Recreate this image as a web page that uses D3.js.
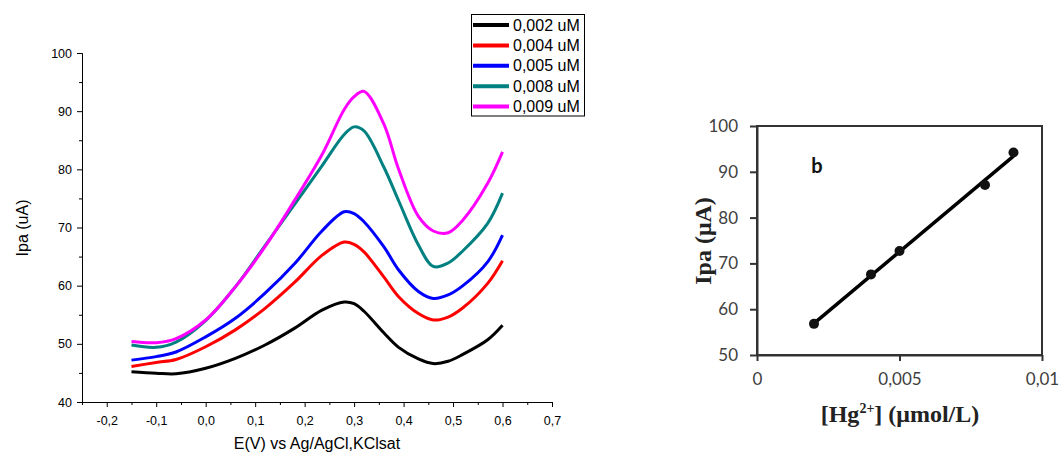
<!DOCTYPE html>
<html>
<head>
<meta charset="utf-8">
<script src="https://cdn.jsdelivr.net/npm/d3@7"></script>
<style>
  body { margin: 0; background: #fff; }
  svg { display: block; }
</style>
</head>
<body>
<svg id="chart" width="1059" height="452"></svg>
<script>
// left panel: voltammograms
var potentials = [-0.15, -0.10, -0.06, 0.00, 0.06, 0.12, 0.18, 0.235, 0.28, 0.30, 0.32, 0.36, 0.39, 0.43, 0.46, 0.49, 0.52, 0.57, 0.60]
var current002 = [45.2, 44.95, 44.85, 45.8, 47.5, 49.8, 52.7, 55.8, 57.2, 56.9, 55.6, 51.9, 49.4, 47.4, 46.6, 47.0, 48.2, 50.7, 53.2]
var current004 = [46.1, 46.8, 47.3, 49.5, 52.4, 56.1, 60.6, 65.2, 67.5, 67.1, 65.8, 61.5, 58.1, 55.2, 54.1, 54.6, 56.2, 60.4, 64.3]
var current005 = [47.2, 47.8, 48.6, 51.2, 54.4, 58.7, 63.8, 69.4, 72.7, 72.4, 71.0, 66.7, 62.7, 59.0, 57.8, 58.4, 60.0, 64.1, 68.7]
var current008 = [49.8, 49.4, 50.3, 54.0, 59.8, 66.9, 74.0, 80.6, 86.0, 87.3, 86.6, 80.4, 74.6, 67.0, 63.3, 63.9, 66.0, 70.7, 75.9]
var current009 = [50.4, 50.2, 50.9, 54.1, 59.8, 66.7, 74.7, 82.5, 90.3, 92.5, 93.4, 87.8, 80.0, 71.9, 69.4, 69.1, 71.3, 77.6, 83.0]
var seriesNames = ["0,002 uM", "0,004 uM", "0,005 uM", "0,008 uM", "0,009 uM"]
var seriesColors = ["#000000", "#ff0000", "#0000ff", "#008080", "#ff00ff"]
var xTicksA = [-0.2, -0.1, 0.0, 0.1, 0.2, 0.3, 0.4, 0.5, 0.6, 0.7]
var xMinorA = [-0.25, -0.15, -0.05, 0.05, 0.15, 0.25, 0.35, 0.45, 0.55, 0.65]
var yTicksA = [40, 50, 60, 70, 80, 90, 100]
var yMinorA = [45, 55, 65, 75, 85, 95]

// right panel: calibration
var concentrations = [0.002, 0.004, 0.005, 0.008, 0.009]
var peakCurrents = [56.8, 67.6, 72.7, 87.1, 94.2]
var xTicksB = [0, 0.005, 0.01]
var yTicksB = [50, 60, 70, 80, 90, 100]

var svg = d3.select("#chart")
var comma = d => String(d).replace(".", ",")

// ---------- left panel ----------
var x = d3.scaleLinear().domain([-0.25, 0.7]).range([82, 552])
var y = d3.scaleLinear().domain([40, 100]).range([402, 53])
var fontA = "'Liberation Sans', Arial, sans-serif"

var gA = svg.append("g")

gA.append("g")
  .attr("transform", "translate(0,402)")
  .call(d3.axisBottom(x).tickValues(xMinorA).tickSize(3).tickFormat(""))
gA.append("g")
  .attr("transform", "translate(0,402)")
  .call(d3.axisBottom(x).tickValues(xTicksA).tickSize(5).tickSizeOuter(0).tickPadding(9)
    .tickFormat(d => d3.format(".1f")(d).replace("−", "-").replace(".", ",")))
gA.append("g")
  .attr("transform", "translate(82,0)")
  .call(d3.axisLeft(y).tickValues(yMinorA).tickSize(3).tickFormat(""))
gA.append("g")
  .attr("transform", "translate(82,0)")
  .call(d3.axisLeft(y).tickValues(yTicksA).tickSize(5).tickSizeOuter(0).tickPadding(5))

gA.selectAll(".domain").attr("stroke", "#000")
gA.selectAll(".tick line").attr("stroke", "#000")
gA.selectAll(".tick text").attr("font-family", fontA).attr("font-size", 12.5).attr("fill", "#000")

gA.append("text")
  .attr("x", 317).attr("y", 449)
  .attr("text-anchor", "middle")
  .attr("font-family", fontA).attr("font-size", 16)
  .text("E(V) vs Ag/AgCl,KClsat")
gA.append("text")
  .attr("transform", "translate(28,228) rotate(-90)")
  .attr("text-anchor", "middle")
  .attr("font-family", fontA).attr("font-size", 16)
  .text("Ipa (uA)")

var allSeries = [current002, current004, current005, current008, current009]
var line = d3.line()
  .x((d, i) => x(potentials[i]))
  .y(d => y(d))
  .curve(d3.curveCatmullRom.alpha(0.5))

allSeries.forEach(function (s, k) {
  gA.append("path")
    .datum(s)
    .attr("fill", "none")
    .attr("stroke", seriesColors[k])
    .attr("stroke-width", 3)
    .attr("stroke-linejoin", "round")
    .attr("d", line)
})

// legend
var legend = gA.append("g")
legend.append("rect")
  .attr("x", 471.5).attr("y", 14.5).attr("width", 113).attr("height", 101.5)
  .attr("fill", "#fff").attr("stroke", "#000").attr("stroke-width", 1)
seriesNames.forEach(function (name, k) {
  var ly = 25 + k * 20.4
  legend.append("line")
    .attr("x1", 473).attr("x2", 509).attr("y1", ly).attr("y2", ly)
    .attr("stroke", seriesColors[k]).attr("stroke-width", 4)
  legend.append("text")
    .attr("x", 513).attr("y", ly).attr("dy", "0.35em")
    .attr("font-family", fontA).attr("font-size", 16)
    .text(name)
})

// ---------- right panel ----------
var xb = d3.scaleLinear().domain([0, 0.01]).range([757, 1042])
var yb = d3.scaleLinear().domain([50, 100]).range([355, 126])
var fontB = "Lato, 'Open Sans', sans-serif"
var serif = "'Liberation Serif', 'DejaVu Serif', serif"

var gB = svg.append("g")

gB.append("rect")
  .attr("x", xb(0)).attr("y", yb(100))
  .attr("width", xb(0.01) - xb(0)).attr("height", yb(50) - yb(100))
  .attr("fill", "none").attr("stroke", "#333").attr("stroke-width", 2)

gB.append("g")
  .attr("transform", "translate(0,355)")
  .call(d3.axisBottom(xb).tickValues(xTicksB).tickSize(6).tickSizeOuter(0).tickPadding(12)
    .tickFormat(d => d === 0 ? "0" : comma(d)))
gB.append("g")
  .attr("transform", "translate(757,0)")
  .call(d3.axisLeft(yb).tickValues(yTicksB).tickSize(7).tickSizeOuter(0).tickPadding(12))

gB.selectAll(".domain").attr("stroke", "#333").attr("stroke-width", 2)
gB.selectAll(".tick line").attr("stroke", "#333").attr("stroke-width", 2)
gB.selectAll(".tick text").attr("font-family", fontB).attr("font-size", 17).attr("fill", "#404040")

// least-squares fit through the calibration points
var mx = d3.mean(concentrations)
var my = d3.mean(peakCurrents)
var slope = d3.sum(concentrations, (c, i) => (c - mx) * (peakCurrents[i] - my)) /
  d3.sum(concentrations, c => (c - mx) * (c - mx))
var icpt = my - slope * mx
var xr = d3.extent(concentrations)
gB.append("line")
  .attr("x1", xb(xr[0])).attr("y1", yb(icpt + slope * xr[0]))
  .attr("x2", xb(xr[1])).attr("y2", yb(icpt + slope * xr[1]))
  .attr("stroke", "#000").attr("stroke-width", 3.5)

gB.selectAll("circle.pt")
  .data(concentrations)
  .enter().append("circle")
  .attr("class", "pt")
  .attr("cx", d => xb(d))
  .attr("cy", (d, i) => yb(peakCurrents[i]))
  .attr("r", 5)
  .attr("fill", "#111")

gB.append("text")
  .attr("x", 817).attr("y", 173)
  .attr("text-anchor", "middle")
  .attr("font-family", fontB).attr("font-weight", "bold").attr("font-size", 20)
  .attr("fill", "#111")
  .text("b")

gB.append("text")
  .attr("transform", "translate(711,241) rotate(-90)")
  .attr("text-anchor", "middle")
  .attr("font-family", serif).attr("font-weight", "bold").attr("font-size", 24)
  .attr("fill", "#222")
  .text("Ipa (μA)")

var xl = gB.append("text")
  .attr("x", 900).attr("y", 422)
  .attr("text-anchor", "middle")
  .attr("font-family", serif).attr("font-weight", "bold").attr("font-size", 24)
  .attr("fill", "#222")
xl.append("tspan").text("[Hg")
xl.append("tspan").attr("font-size", 14).attr("dy", -9).text("2+")
xl.append("tspan").attr("dy", 9).text("] (μmol/L)")
</script>
</body>
</html>
